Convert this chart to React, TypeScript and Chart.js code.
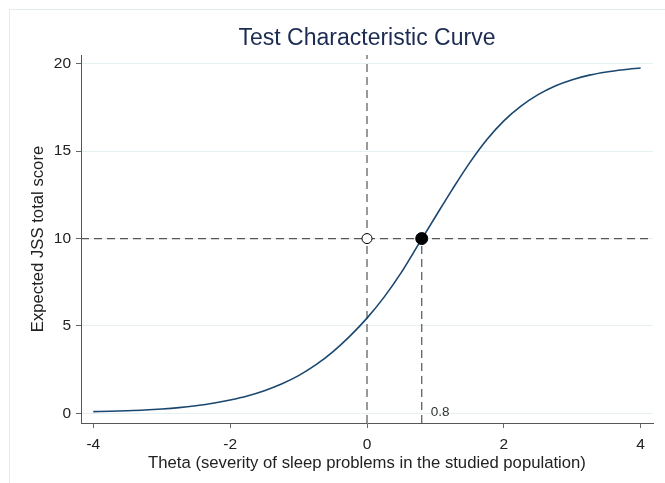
import React, { useEffect, useRef } from "react";
import { Chart, registerables } from "chart.js";

Chart.register(...registerables);

// Theta grid and expected total score
const thetaValues = [
  -4, -3.75, -3.5, -3.25, -3, -2.75, -2.5, -2.25, -2, -1.75, -1.5, -1.25, -1,
  -0.75, -0.5, -0.25, 0, 0.25, 0.5, 0.75, 1, 1.25, 1.5, 1.75, 2, 2.25, 2.5,
  2.75, 3, 3.25, 3.5, 3.75, 4,
];
const scoreValues = [
  0.1, 0.12, 0.15, 0.19, 0.25, 0.33, 0.44, 0.58, 0.77, 1.0, 1.3, 1.68, 2.16,
  2.77, 3.52, 4.42, 5.45, 6.65, 8.05, 9.65, 11.25, 12.83, 14.33, 15.65, 16.73,
  17.57, 18.23, 18.73, 19.09, 19.35, 19.53, 19.66, 19.76,
];

// Reference values
const refScore = 10;
const refThetaZero = 0;
const refThetaCut = 0.8;
const cutLabel = "0.8";

// Axis ticks
const xTicks = [-4, -2, 0, 2, 4];
const yTicks = [0, 5, 10, 15, 20];
const xRange = [-4.18, 4.18];
const yRange = [-0.55, 20.5];

const titleText = "Test Characteristic Curve";
const xTitle = "Theta (severity of sleep problems in the studied population)";
const yTitle = "Expected JSS total score";

const FONT = "'Liberation Sans', Arial, Helvetica, sans-serif";

export default function App() {
  const ref = useRef<HTMLCanvasElement | null>(null);

  useEffect(() => {
    if (!ref.current) return;

    const framePlugin = {
      id: "frame",
      beforeDraw(chart: any) {
        const ctx = chart.ctx;
        ctx.save();
        ctx.fillStyle = "#ffffff";
        ctx.fillRect(0, 0, chart.width, chart.height);
        ctx.strokeStyle = "#e3ecec";
        ctx.lineWidth = 1;
        ctx.strokeRect(9.5, 9.5, chart.width + 20, chart.height + 20);
        ctx.restore();
      },
      afterDatasetsDraw(chart: any) {
        const ctx = chart.ctx;
        const xs = chart.scales.x;
        const ys = chart.scales.y;
        ctx.save();
        ctx.font = `13.5px ${FONT}`;
        ctx.fillStyle = "#333333";
        ctx.textAlign = "left";
        ctx.textBaseline = "middle";
        ctx.fillText(cutLabel, xs.getPixelForValue(refThetaCut) + 9, ys.getPixelForValue(0) - 1);
        ctx.restore();
      },
    };

    const curve = thetaValues.map((t, i) => ({ x: t, y: scoreValues[i] }));

    const dashStyle = {
      showLine: true,
      borderColor: "#555555",
      borderWidth: 1.2,
      borderDash: [8, 5],
      pointRadius: 0,
      fill: false,
    };

    const chart = new Chart(ref.current, {
      type: "scatter",
      data: {
        datasets: [
          {
            data: [{ x: refThetaCut, y: refScore }],
            pointRadius: 6,
            pointBackgroundColor: "#000000",
            pointBorderColor: "#000000",
            pointBorderWidth: 1,
            order: 0,
          } as any,
          {
            data: [{ x: refThetaZero, y: refScore }],
            pointRadius: 5,
            pointBackgroundColor: "#ffffff",
            pointBorderColor: "#000000",
            pointBorderWidth: 1,
            order: 1,
          },
          {
            data: curve,
            showLine: true,
            borderColor: "#1a476f",
            borderWidth: 1.6,
            pointRadius: 0,
            cubicInterpolationMode: "monotone",
            fill: false,
            order: 2,
          },
          {
            ...dashStyle,
            data: [
              { x: xRange[0], y: refScore },
              { x: xRange[1], y: refScore },
            ],
            order: 3,
          },
          {
            ...dashStyle,
            data: [
              { x: refThetaZero, y: yRange[0] },
              { x: refThetaZero, y: yRange[1] },
            ],
            order: 4,
          },
          {
            ...dashStyle,
            data: [
              { x: refThetaCut, y: yRange[0] },
              { x: refThetaCut, y: refScore },
            ],
            order: 5,
          },
        ] as any,
      },
      options: {
        animation: false,
        responsive: false,
        devicePixelRatio: 1,
        events: [],
        layout: { padding: { left: 0, right: 12, top: 0, bottom: 0 } },
        plugins: {
          legend: { display: false },
          tooltip: { enabled: false },
          title: {
            display: true,
            text: titleText,
            fullSize: false,
            color: "#1c2b52",
            font: { family: FONT, size: 23, weight: "normal" },
            padding: { top: 25, bottom: 2.4 },
          },
        },
        scales: {
          x: {
            type: "linear",
            min: xRange[0],
            max: xRange[1],
            afterBuildTicks(scale: any) {
              scale.ticks = xTicks.map((v) => ({ value: v }));
            },
            afterFit(scale: any) {
              scale.height = 60;
            },
            grid: {
              drawOnChartArea: false,
              drawTicks: true,
              tickLength: 5,
              tickColor: "#666666",
            },
            border: { display: true, color: "#555555", width: 1 },
            ticks: {
              color: "#222222",
              padding: 7,
              font: { family: FONT, size: 15.5 },
              maxRotation: 0,
              callback: (v: any) => String(v),
            },
            title: {
              display: true,
              text: xTitle,
              color: "#222222",
              font: { family: FONT, size: 16.7 },
              padding: { top: 0, bottom: 10 },
            },
          },
          y: {
            type: "linear",
            min: yRange[0],
            max: yRange[1],
            afterBuildTicks(scale: any) {
              scale.ticks = yTicks.map((v) => ({ value: v }));
            },
            afterFit(scale: any) {
              scale.width = 81;
            },
            grid: {
              drawOnChartArea: true,
              color: "#e6eff1",
              lineWidth: 1,
              drawTicks: true,
              tickLength: 5,
              tickColor: "#666666",
            },
            border: { display: true, color: "#555555", width: 1 },
            ticks: {
              color: "#222222",
              padding: 5,
              font: { family: FONT, size: 15.5 },
              callback: (v: any) => String(v),
            },
            title: {
              display: true,
              text: yTitle,
              color: "#222222",
              font: { family: FONT, size: 16.7 },
              padding: { top: 28, bottom: 0 },
            },
          },
        },
      } as any,
      plugins: [framePlugin],
    });

    return () => chart.destroy();
  }, []);

  return (
    <div style={{ position: "absolute", left: 0, top: 0, width: 665, height: 483 }}>
      <canvas ref={ref} width={665} height={483} style={{ display: "block" }} />
    </div>
  );
}
